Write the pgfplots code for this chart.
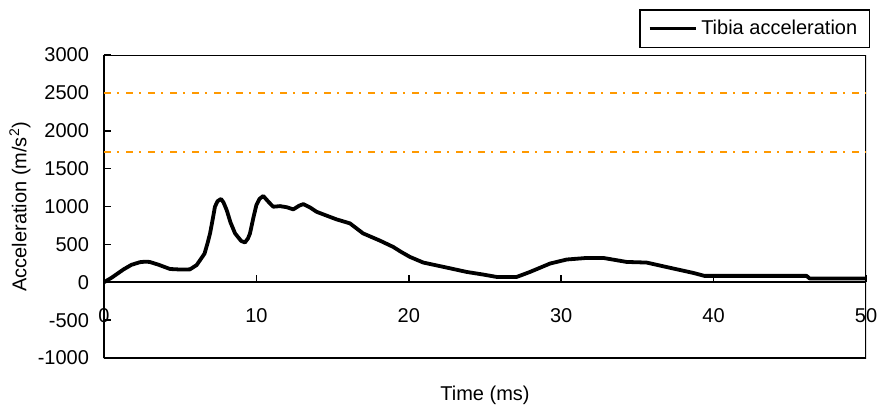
\documentclass[border=0pt]{standalone}
\usepackage{pgfplots}
\pgfplotsset{compat=1.18}
\usepackage{fontspec}
\setmainfont{Liberation Sans}
\definecolor{limitorange}{RGB}{255,153,0}

\begin{document}
\begin{tikzpicture}
\useasboundingbox (-52pt,-24pt) rectangle (388.5pt,179pt);
\begin{axis}[
    scale only axis,
    width=381pt, height=151.5pt,
    xmin=0, xmax=50, ymin=-1000, ymax=3000,
    axis x line=middle, axis y line=left,
    axis line style={-, line width=0.8pt},
    hide obscured x ticks=false, hide obscured y ticks=false,
    xtick={0,10,20,30,40,50},
    xticklabels={0,10,20,30,40,50},
    ytick={-1000,-500,0,500,1000,1500,2000,2500,3000},
    yticklabels={-1000,-500,0,500,1000,1500,2000,2500,3000},
    tick align=inside, major tick length=3.5pt,
    tick style={line width=0.8pt, black},
    font=\fontsize{10}{12}\selectfont,
    xticklabel style={yshift=-9.5pt},
    yticklabel style={xshift=-4pt},
    xlabel={Time (ms)},
    ylabel={Acceleration (m/s\textsuperscript{2})},
    every axis x label/.style={at={(rel axis cs:0.5,0)}, yshift=-18.5pt, anchor=center},
    every axis y label/.style={at={(rel axis cs:0,0.5)}, xshift=-42pt, rotate=90, anchor=center},
    legend style={at={(1,1)}, anchor=south east, xshift=2pt, yshift=3.5pt,
      draw=black, line width=0.75pt, inner xsep=4pt, inner ysep=3pt,
      font=\fontsize{10}{12}\selectfont},
    legend image code/.code={\draw[black, line width=1.5pt] (0pt,0pt) -- (23pt,0pt);},
  ]
  \draw[line width=0.8pt] (rel axis cs:0,0) rectangle (rel axis cs:1,1);

  \addplot[forget plot, limitorange, line width=0.75pt,
    dash pattern=on 3.5pt off 3pt on 1pt off 3.5pt] coordinates {(0,2500) (50,2500)};
  \addplot[forget plot, limitorange, line width=0.75pt,
    dash pattern=on 3.5pt off 3pt on 1pt off 3.5pt] coordinates {(0,1720) (50,1720)};

  \addplot[black, line width=1.9pt, line join=round] coordinates {
    (0,0) (0.5,60) (1.27,168) (1.8,230) (2.36,265) (2.7,272) (3.0,268) (3.6,230)
    (4.33,175) (5.0,168) (5.64,170) (6.08,227) (6.4,320) (6.6,380) (6.8,520) (6.96,645)
    (7.15,850) (7.28,997) (7.45,1070) (7.68,1100) (7.85,1050) (8.05,953) (8.3,790) (8.6,645)
    (9.0,545) (9.25,525) (9.45,580) (9.58,645) (9.8,850) (10.0,1020) (10.2,1100)
    (10.45,1139) (10.8,1060) (11.1,997) (11.55,1005)
    (12.0,990) (12.42,962) (12.8,1010) (13.08,1032) (13.5,990) (13.95,930)
    (14.6,880) (15.26,830) (16.14,777) (17.0,645) (18.1,550) (18.98,466)
    (19.5,400) (20.08,334) (20.95,260) (22.48,194) (23.8,136) (24.9,101) (25.77,70)
    (27.08,70) (27.95,136) (29.27,247) (30.36,300) (31.67,321) (32.76,321)
    (34.3,268) (35.6,260) (37.36,181) (38.67,123) (39.4,84) (46.1,84)
    (46.3,50) (50,50)
  };
  \addlegendentry{Tibia acceleration}
\end{axis}
\end{tikzpicture}
\end{document}
